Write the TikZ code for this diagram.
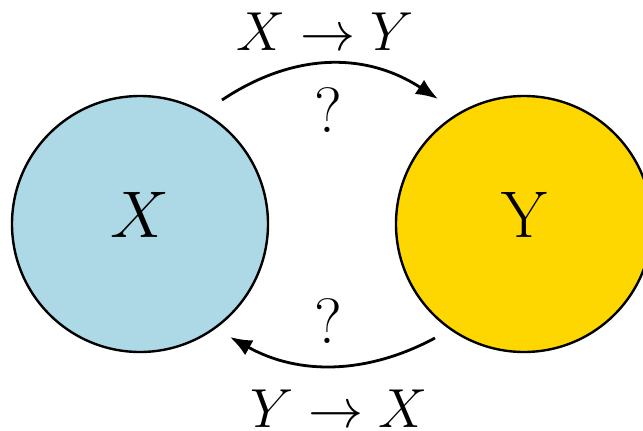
\RequirePackage{fix-cm}
\documentclass[tikz,border=0pt]{standalone}
\usetikzlibrary{arrows.meta}
\definecolor{xblue}{RGB}{173,216,230}
\definecolor{ygold}{RGB}{255,215,0}
\begin{document}
\begin{tikzpicture}[x=1pt,y=-1pt,
  var/.style={circle,draw=black,line width=2.4pt,minimum size=256pt,inner sep=0pt,text depth=18pt,font=\fontsize{66}{70}\selectfont},
  lab/.style={font=\fontsize{55}{60}\selectfont,inner sep=0pt},
  qm/.style={font=\fontsize{64}{70}\selectfont,inner sep=0pt},
  conn/.style={line width=2.8pt,-{Latex[length=22pt,width=17pt]}}]
\useasboundingbox (0,0) rectangle (643,431);
\node[var,fill=xblue] (X) at (140,224) {$X$};
\node[var,fill=ygold] (Y) at (524,224) {Y};
\coordinate (a1) at (222,100);
\coordinate (a2) at (438,99);
\coordinate (b1) at (435,338);
\coordinate (b2) at (230,337);
\draw[conn] (a1) .. controls (294,52) and (366,52) .. (a2);
\draw[conn] (b1) .. controls (366,375) and (298,375) .. (b2);
\node[lab,anchor=base] (t1) at (325,50) {$X\to Y$};
\node[lab,anchor=base] (t2) at (339,427) {$Y\to X$};
\node[qm,anchor=base] (q1) at (328,132) {?};
\node[qm,anchor=base] (q2) at (328,343) {?};
\end{tikzpicture}
\end{document}
